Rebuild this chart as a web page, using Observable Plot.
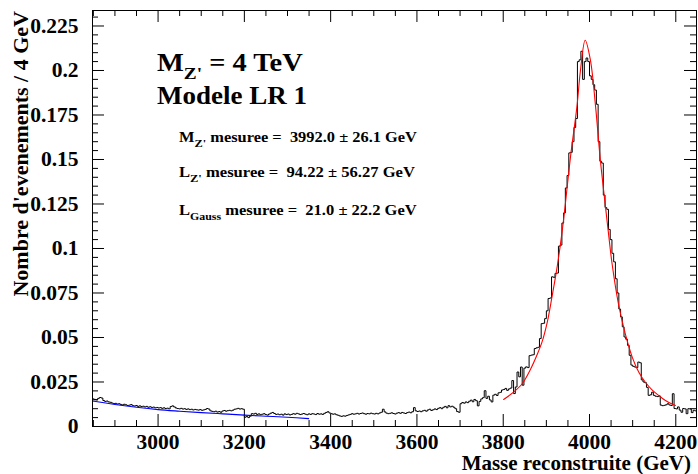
<!DOCTYPE html>
<html><head><meta charset="utf-8">
<script src="https://cdn.jsdelivr.net/npm/d3@7"></script>
<script src="https://cdn.jsdelivr.net/npm/@observablehq/plot@0.6"></script>
<style>body{margin:0;background:#fff;}</style>
</head><body><div id="chart"></div>
<script>
// Histogram: 4 GeV bins starting at 2848 GeV
const binStart = 2848;
const binWidth = 4;
const eventsPerBin = [
 0.0155,0.0152,0.0150,0.0158,0.0163, 0.0160,0.0146,0.0141,0.0143,0.0138,
 0.0136,0.0132,0.0129,0.0130,0.0126, 0.0128,0.0124,0.0121,0.0125,0.0122,
 0.0118,0.0120,0.0123,0.0117,0.0115, 0.0118,0.0113,0.0116,0.0112,0.0114,
 0.0110,0.0113,0.0108,0.0111,0.0107, 0.0109,0.0105,0.0107,0.0104,0.0106,
 0.0102,0.0105,0.0101,0.0103,0.0099, 0.0112,0.0116,0.0110,0.0104,0.0101,
 0.0099,0.0102,0.0098,0.0100,0.0096, 0.0099,0.0095,0.0097,0.0093,0.0096,
 0.0094,0.0092,0.0095,0.0091,0.0093, 0.0096,0.0101,0.0098,0.0088,0.0085,
 0.0083,0.0086,0.0081,0.0084,0.0080, 0.0087,0.0090,0.0086,0.0089,0.0091,
 0.0088,0.0092,0.0097,0.0099,0.0102, 0.0098,0.0100,0.0097,
 // 3200
 0.0052,0.0056,0.0050,0.0058,0.0072, 0.0070,0.0074,0.0068,0.0071,0.0066,
 0.0069,0.0072,0.0067,0.0064,0.0070, 0.0075,0.0079,0.0073,0.0068,0.0070,
 0.0066,0.0069,0.0064,0.0071,0.0067, 0.0070,0.0065,0.0068,0.0072,0.0069,
 0.0074,0.0071,0.0067,0.0070,0.0073, 0.0069,0.0066,0.0071,0.0068,0.0072,
 0.0070,0.0067,0.0073,0.0069,0.0071, 0.0068,0.0074,0.0079,0.0083,0.0076,
 0.0072,0.0069,0.0071,0.0066,0.0063, 0.0059,0.0057,0.0060,0.0058,0.0062,
 0.0065,0.0068,0.0072,0.0069,0.0071, 0.0074,0.0070,0.0073,0.0076,0.0072,
 0.0069,0.0073,0.0071,0.0075,0.0072,
 // 3500
 0.0070,0.0074,0.0071,0.0076,0.0080, 0.0097,0.0082,0.0075,0.0072,0.0074,
 0.0077,0.0073,0.0070,0.0075,0.0078, 0.0074,0.0079,0.0076,0.0073,0.0078,
 0.0081,0.0077,0.0083,0.0106,0.0088, 0.0084,0.0087,0.0083,0.0088,0.0091,
 0.0086,0.0093,0.0097,0.0090,0.0094, 0.0099,0.0095,0.0102,0.0106,0.0100,
 0.0108,0.0113,0.0105,0.0117,0.0110, 0.0114,0.0108,0.0100,0.0084,0.0080,
 // 3700
 0.0128,0.0135,0.0131,0.0138,0.0134, 0.0142,0.0148,0.0139,0.0152,0.0145,
 0.0116,0.0141,0.0155,0.0162,0.0201, 0.0158,0.0170,0.0149,0.0138,0.0176,
 0.0181,0.0174,0.0189,0.0192,0.0205,
 // 3800
 0.0208,0.0214,0.0203,0.0211,0.0216, 0.0258,0.0185,0.0222,0.0306,0.0279,
 0.0334,0.0232,0.0328,0.0335,0.0331, 0.0398,0.0401,0.0403,0.0438,0.0442,
 0.0445,0.0494,0.0578,0.0580,0.0606,
 // 3900
 0.0650,0.0719,0.0722,0.0841,0.0838, 0.0860,0.0862,0.1013,0.1019,0.1143,
 0.1200,0.1340,0.1410,0.1537,0.1540, 0.1600,0.1680,0.1730,0.2050,0.2060,
 0.2108,0.1950,0.2050,0.2070,0.2050,
 // 4000
 0.1970,0.1950,0.1920,0.1890,0.1810, 0.1600,0.1490,0.1480,0.1300,0.1230,
 0.1220,0.1107,0.1050,0.0973,0.0925, 0.0830,0.0750,0.0660,0.0616,0.0560,
 0.0503,0.0490,0.0456,0.0400,0.0345,
 // 4100
 0.0338,0.0334,0.0331,0.0362,0.0358, 0.0262,0.0250,0.0246,0.0220,0.0175,
 0.0178,0.0193,0.0175,0.0170,0.0168, 0.0172,0.0120,0.0117,0.0119,0.0122,
 0.0128,0.0121,0.0118,0.0184,0.0101, 0.0099,0.0110,0.0092,0.0080,0.0101,
 0.0099,0.0072,0.0100,0.0098,0.0078, 0.0091,0.0088
];

// Red fit curve
const redMass = [3801,3824,3844,3863,3878,3890,3902,3913,3925,3936,3944,3956,3971,3979,3990,
                 4002,4014,4025,4037,4044,4052,4067,4083,4099,4114,4129,4145,4160,4176,4199];
const redValue = [0.0152,0.0193,0.0240,0.0320,0.0400,0.0475,0.0585,0.0728,0.0897,0.1085,0.1250,0.1516,0.1800,0.2000,0.2170,
                  0.2060,0.1800,0.1500,0.1235,0.1085,0.0920,0.0690,0.0520,0.0390,0.0306,0.0250,0.0206,0.0175,0.0146,0.0118];

// Blue background fit
const blueMass = [2848,2900,2950,3000,3050,3100,3150,3200,3250,3300,3349];
const blueValue = [0.0143,0.0124,0.0108,0.0095,0.0086,0.0078,0.0071,0.0064,0.0058,0.0052,0.0044];

// Axes
const xMajorTicks = [3000,3200,3400,3600,3800,4000,4200];
const xTickLabels = ["3000","3200","3400","3600","3800","4000","4200"];
const xMinorStep = 50;
const yMajorTicks = [0,0.025,0.05,0.075,0.1,0.125,0.15,0.175,0.2,0.225];
const yTickLabels = ["0","0.025","0.05","0.075","0.1","0.125","0.15","0.175","0.2","0.225"];
const yMinorStep = 0.005;
const xDomain = [2848, 4248];
const yDomain = [0, 0.2337];

const xTitle = "Masse reconstruite (GeV)";
const yTitle = "Nombre d'evenements / 4 GeV";

// Build tables
const hist = eventsPerBin.map((v, i) => ({m: binStart + i * binWidth, v}));
hist.push({m: binStart + eventsPerBin.length * binWidth, v: eventsPerBin[eventsPerBin.length - 1]});
const red = redMass.map((m, i) => ({m, v: redValue[i]}));
const blue = blueMass.map((m, i) => ({m, v: blueValue[i]}));
const xMinor = d3.range(Math.ceil(xDomain[0] / xMinorStep) * xMinorStep, xDomain[1], xMinorStep).filter(d => !xMajorTicks.includes(d));
const yMinor = d3.range(0, Math.floor(yDomain[1] / yMinorStep) + 1).map(i => +(i * yMinorStep).toFixed(3)).filter(d => !yMajorTicks.includes(d));

const W = 698, H = 474, mL = 92, mR = 2, mT = 10, mB = 48;
const iW = W - mL - mR, iH = H - mT - mB;
const font = "'Liberation Serif', 'Times New Roman', serif";

const plot = Plot.plot({
  width: W, height: H,
  marginLeft: mL, marginRight: mR, marginTop: mT, marginBottom: mB,
  x: {domain: xDomain},
  y: {domain: yDomain},
  style: {fontFamily: font, fontWeight: "bold", fontSize: "21.5px", background: "white", color: "black"},
  marks: [
    Plot.tickX(xMajorTicks, {x: d => d, insetTop: iH - 12, stroke: "black"}),
    Plot.tickX(xMajorTicks, {x: d => d, insetBottom: iH - 12, stroke: "black"}),
    Plot.tickX(xMinor, {x: d => d, insetTop: iH - 6, stroke: "black"}),
    Plot.tickX(xMinor, {x: d => d, insetBottom: iH - 6, stroke: "black"}),
    Plot.tickY(yMajorTicks, {y: d => d, insetRight: iW - 12, stroke: "black"}),
    Plot.tickY(yMajorTicks, {y: d => d, insetLeft: iW - 12, stroke: "black"}),
    Plot.tickY(yMinor, {y: d => d, insetRight: iW - 6, stroke: "black"}),
    Plot.tickY(yMinor, {y: d => d, insetLeft: iW - 6, stroke: "black"}),
    Plot.axisX(xMajorTicks, {tickSize: 0, tickPadding: 7, label: null, tickFormat: d => xTickLabels[xMajorTicks.indexOf(d)]}),
    Plot.axisY(yMajorTicks, {tickSize: 0, tickPadding: 14, label: null, tickFormat: d => yTickLabels[yMajorTicks.indexOf(d)]}),
    Plot.line(hist, {x: "m", y: "v", curve: "step-after", stroke: "black", strokeWidth: 1}),
    Plot.line(blue, {x: "m", y: "v", curve: "catmull-rom", stroke: "#0000ff", strokeWidth: 1.1}),
    Plot.line(red, {x: "m", y: "v", curve: "catmull-rom", stroke: "#ff0000", strokeWidth: 1.1}),
    Plot.frame({stroke: "black", strokeWidth: 1})
  ]
});
document.getElementById("chart").appendChild(plot);

const svg = d3.select(plot);

function richText(x, y, parts, size, targetWidth) {
  const t = svg.append("text")
    .attr("font-family", font).attr("font-weight", "bold").attr("font-size", size)
    .attr("text-anchor", "start").attr("fill", "black").style("white-space", "pre");
  let shift = 0;
  parts.forEach(p => {
    const ts = t.append("tspan").text(p.t);
    if (p.sub) {
      ts.attr("font-size", size * p.scale).attr("dy", p.drop - shift);
      shift = p.drop;
    } else if (shift) {
      ts.attr("dy", -shift);
      shift = 0;
    }
  });
  const w = t.node().getBBox().width;
  const sx = targetWidth ? targetWidth / w : 1;
  t.attr("transform", `translate(${x},${y}) scale(${sx},1)`);
  return t;
}

richText(157, 71, [{t: "M"}, {t: "Z'", sub: true, scale: 0.68, drop: 8}, {t: " = 4 TeV"}], 26, 146);
richText(157, 104, [{t: "Modele LR 1"}], 26, 150);
richText(179, 142, [{t: "M"}, {t: "Z'", sub: true, scale: 0.75, drop: 5}, {t: " mesuree =  3992.0 \u00b1 26.1 GeV"}], 14, 238);
richText(179, 177, [{t: "L"}, {t: "Z'", sub: true, scale: 0.75, drop: 5}, {t: " mesuree =  94.22 \u00b1 56.27 GeV"}], 14, 236);
richText(179, 215, [{t: "L"}, {t: "Gauss", sub: true, scale: 0.72, drop: 5}, {t: " mesuree =  21.0 \u00b1 22.2 GeV"}], 14, 238);

// Axis titles
svg.append("text").attr("font-family", font).attr("font-weight", "bold").attr("font-size", 21)
  .attr("text-anchor", "end").attr("x", 691).attr("y", 470).text(xTitle);
svg.append("text").attr("font-family", font).attr("font-weight", "bold").attr("font-size", 22)
  .attr("text-anchor", "end").attr("transform", "translate(28,11) rotate(-90)").text(yTitle);
</script>
</body></html>
